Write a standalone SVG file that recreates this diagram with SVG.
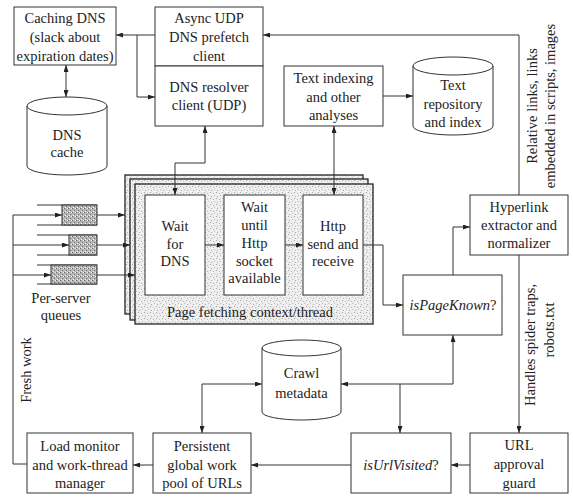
<svg xmlns="http://www.w3.org/2000/svg" width="573" height="503" viewBox="0 0 573 503">
<style>
text{font-family:"Liberation Serif","DejaVu Serif",serif;font-size:14.5px;fill:#222;text-anchor:middle}
.box{fill:#fff;stroke:#333;stroke-width:1}
.cyl{fill:#fff;stroke:#333;stroke-width:1}
.ln{fill:none;stroke:#333;stroke-width:1}
.ctx{fill:url(#stip);stroke:#222;stroke-width:1.3}
.q{fill:url(#dark);stroke:#333;stroke-width:1}
.it{font-style:italic}
</style>
<defs>
<pattern id="stip" width="6" height="6" patternUnits="userSpaceOnUse">
<rect width="6" height="6" fill="#ededed"/>
<rect x="0" y="0" width="1" height="1" fill="#a8a8a8"/>
<rect x="3" y="1" width="1" height="1" fill="#b8b8b8"/>
<rect x="1" y="4" width="1" height="1" fill="#b0b0b0"/>
<rect x="4" y="3" width="1" height="1" fill="#c0c0c0"/>
<rect x="5" y="5" width="1" height="1" fill="#fff"/>
<rect x="2" y="2" width="1" height="1" fill="#fff"/>
</pattern>
<pattern id="dark" width="4" height="4" patternUnits="userSpaceOnUse">
<rect width="4" height="4" fill="#b8b8b8"/>
<rect x="0" y="0" width="1" height="1" fill="#666"/>
<rect x="2" y="2" width="1" height="1" fill="#707070"/>
<rect x="3" y="0" width="1" height="1" fill="#eee"/>
<rect x="1" y="3" width="1" height="1" fill="#eee"/>
</pattern>
<marker id="ah" viewBox="0 0 7 5" refX="7" refY="2.5" markerWidth="7" markerHeight="5" markerUnits="userSpaceOnUse" orient="auto-start-reverse">
<path d="M0,0 L7,2.5 L0,5 Z" fill="#222"/>
</marker>
</defs>

<g id="page-fetching-context">
<rect class="ctx" x="125" y="175" width="238" height="139"/>
<rect class="ctx" x="130" y="179" width="238" height="141"/>
<rect class="ctx" x="135" y="184" width="238" height="140"/>
<text x="250" y="317">Page fetching context/thread</text>
</g>

<g id="caching-dns">
<rect class="box" x="14" y="7" width="102" height="58"/>
<text x="65" y="23">Caching DNS</text>
<text x="65" y="42">(slack about</text>
<text x="65" y="61">expiration dates)</text>
</g>
<g id="async-udp">
<rect class="box" x="155" y="7" width="108" height="59"/>
<text x="209" y="23">Async UDP</text>
<text x="209" y="42">DNS prefetch</text>
<text x="209" y="61">client</text>
</g>
<g id="dns-resolver">
<rect class="box" x="155" y="66" width="108" height="60"/>
<text x="209" y="92">DNS resolver</text>
<text x="209" y="110">client (UDP)</text>
</g>
<g id="dns-cache">
<path class="cyl" d="M27,106 A40,9 0 0 1 107,106 L107,166 A40,9 0 0 1 27,166 Z"/>
<path class="ln" d="M27,106 A40,9 0 0 0 107,106"/>
<text x="67" y="140">DNS</text>
<text x="67" y="157">cache</text>
</g>
<g id="text-indexing">
<rect class="box" x="284" y="66" width="99" height="60"/>
<text x="333.5" y="83">Text indexing</text>
<text x="333.5" y="102">and other</text>
<text x="333.5" y="120">analyses</text>
</g>
<g id="text-repository">
<path class="cyl" d="M413,66 A40,9 0 0 1 493,66 L493,126 A40,9 0 0 1 413,126 Z"/>
<path class="ln" d="M413,66 A40,9 0 0 0 493,66"/>
<text x="453" y="90">Text</text>
<text x="453" y="109">repository</text>
<text x="453" y="127">and  index</text>
</g>
<g id="wait-dns">
<rect class="box" x="145" y="195" width="60" height="100"/>
<text x="175" y="231">Wait</text>
<text x="175" y="249">for</text>
<text x="175" y="266">DNS</text>
</g>
<g id="wait-socket">
<rect class="box" x="224" y="195" width="61" height="100"/>
<text x="254.5" y="212">Wait</text>
<text x="254.5" y="230">until</text>
<text x="254.5" y="248">Http</text>
<text x="254.5" y="266">socket</text>
<text x="254.5" y="283">available</text>
</g>
<g id="http">
<rect class="box" x="303" y="195" width="60" height="100"/>
<text x="333" y="231">Http</text>
<text x="333" y="249">send and</text>
<text x="333" y="266">receive</text>
</g>
<g id="queues">
<path class="ln" d="M37,205 H97 M37,225 H97 M37,235 H97 M37,255 H97 M37,265 H97 M37,284 H97"/>
<rect class="q" x="62" y="205" width="35" height="20"/>
<rect class="q" x="69" y="235" width="28" height="20"/>
<rect class="q" x="51" y="265" width="46" height="19"/>
<text x="61" y="303">Per-server</text>
<text x="61" y="320">queues</text>
</g>
<g id="hyperlink">
<rect class="box" x="470" y="195" width="98" height="60"/>
<text x="519" y="212">Hyperlink</text>
<text x="519" y="230">extractor and</text>
<text x="519" y="248">normalizer</text>
</g>
<g id="is-page-known">
<rect class="box" x="403" y="275" width="99" height="60"/>
<text x="453" y="310"><tspan class="it">isPageKnown</tspan>?</text>
</g>
<g id="crawl-metadata">
<path class="cyl" d="M262,348 A39.5,8 0 0 1 341,348 L341,412 A39.5,8 0 0 1 262,412 Z"/>
<path class="ln" d="M262,348 A39.5,8 0 0 0 341,348"/>
<text x="301.5" y="378">Crawl</text>
<text x="301.5" y="398">metadata</text>
</g>
<g id="load-monitor">
<rect class="box" x="27" y="433" width="106" height="60"/>
<text x="80" y="451">Load monitor</text>
<text x="80" y="470">and work-thread</text>
<text x="80" y="488">manager</text>
</g>
<g id="persistent-pool">
<rect class="box" x="153" y="433" width="98" height="60"/>
<text x="202" y="451">Persistent</text>
<text x="202" y="470">global work</text>
<text x="202" y="488">pool of URLs</text>
</g>
<g id="is-url-visited">
<rect class="box" x="351" y="433" width="100" height="60"/>
<text x="401" y="470"><tspan class="it">isUrlVisited</tspan>?</text>
</g>
<g id="url-approval">
<rect class="box" x="470" y="433" width="98" height="60"/>
<text x="519" y="450">URL</text>
<text x="519" y="469">approval</text>
<text x="519" y="488">guard</text>
</g>

<g id="connectors">
<path class="ln" marker-end="url(#ah)" d="M155,35 H116"/>
<path class="ln" marker-end="url(#ah)" d="M137,35 V97 H155"/>
<path class="ln" marker-start="url(#ah)" marker-end="url(#ah)" d="M66,65 V97"/>
<path class="ln" marker-end="url(#ah)" d="M519,195 V35 H263"/>
<path class="ln" marker-start="url(#ah)" marker-end="url(#ah)" d="M205,126 V163 H175 V195"/>
<path class="ln" marker-start="url(#ah)" marker-end="url(#ah)" d="M334,126 V195"/>
<path class="ln" marker-end="url(#ah)" d="M383,96 H413"/>
<path class="ln" marker-end="url(#ah)" d="M205,245 H224"/>
<path class="ln" marker-end="url(#ah)" d="M285,245 H303"/>
<path class="ln" marker-end="url(#ah)" d="M363,245 H383 V305 H403"/>
<path class="ln" marker-end="url(#ah)" d="M453,275 V227 H470"/>
<path class="ln" marker-end="url(#ah)" d="M519,255 V433"/>
<path class="ln" marker-end="url(#ah)" d="M470,465 H451"/>
<path class="ln" marker-end="url(#ah)" d="M351,465 H251"/>
<path class="ln" marker-end="url(#ah)" d="M153,465 H133"/>
<path class="ln" d="M27,464 H13 V215"/>
<path class="ln" marker-end="url(#ah)" d="M13,215 H62"/>
<path class="ln" marker-end="url(#ah)" d="M13,245 H69"/>
<path class="ln" marker-end="url(#ah)" d="M13,275 H51"/>
<path class="ln" marker-end="url(#ah)" d="M97,215 H125"/>
<path class="ln" marker-end="url(#ah)" d="M97,245 H130"/>
<path class="ln" marker-end="url(#ah)" d="M97,275 H135"/>
<path class="ln" marker-start="url(#ah)" marker-end="url(#ah)" d="M341,384 H453 V335"/>
<path class="ln" marker-end="url(#ah)" d="M400,384 V433"/>
<path class="ln" marker-start="url(#ah)" marker-end="url(#ah)" d="M202,433 V384 H262"/>
</g>

<g id="labels">
<text transform="translate(532,106) rotate(-90)" y="5">Relative links, links</text>
<text transform="translate(550,106) rotate(-90)" y="5">embedded in scripts, images</text>
<text transform="translate(530,345) rotate(-90)" y="5">Handles spider traps,</text>
<text transform="translate(549,330) rotate(-90)" y="5">robots.txt</text>
<text transform="translate(26,370) rotate(-90)" y="5">Fresh work</text>
</g>
</svg>
